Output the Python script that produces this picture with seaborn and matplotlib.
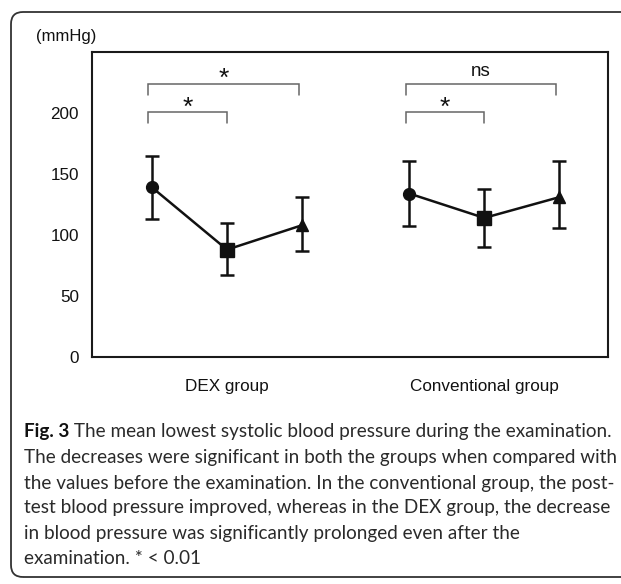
import matplotlib
matplotlib.use("Agg")
import matplotlib.pyplot as plt
import seaborn as sns
import pandas as pd
import numpy as np
from matplotlib.patches import FancyBboxPatch

# ---------------- data ----------------
groups = ["DEX group", "Conventional group"]
timepoints = ["Before", "During", "After"]
dex_mean = [139, 88, 108]
dex_upper = [165, 110, 131]
dex_lower = [113, 67, 87]
conv_mean = [134, 114, 131]
conv_upper = [161, 138, 161]
conv_lower = [107, 90, 106]
y_ticks = [0, 50, 100, 150, 200]
y_unit = "(mmHg)"
sig_labels_dex = ["*", "*"]        # (before vs during, before vs after)
sig_labels_conv = ["*", "ns"]
caption_bold = "Fig. 3"
caption_lines = [
    " The mean lowest systolic blood pressure during the examination.",
    "The decreases were significant in both the groups when compared with",
    "the values before the examination. In the conventional group, the post-",
    "test blood pressure improved, whereas in the DEX group, the decrease",
    "in blood pressure was significantly prolonged even after the",
    "examination. * < 0.01",
]

# ---------------- layout ----------------
W, H = 621, 584
fig = plt.figure(figsize=(W / 100, H / 100), dpi=100)
sns.set_style("white")
plt.rcParams["font.family"] = ["Liberation Sans", "DejaVu Sans"]

ax = fig.add_axes([92 / W, 1 - 357 / H, (608 - 92) / W, (357 - 52) / H])

group_gap = 3.43
rows = []
for gi, (g, m, lo, up) in enumerate(zip(groups, [dex_mean, conv_mean],
                                         [dex_lower, conv_lower],
                                         [dex_upper, conv_upper])):
    for ti, t in enumerate(timepoints):
        rows.append(dict(group=g, time=t, x=1 + ti + gi * group_gap,
                         mean=m[ti], lower=lo[ti], upper=up[ti]))
df = pd.DataFrame(rows)

# lines
sns.lineplot(data=df, x="x", y="mean", units="group", estimator=None,
             color="#111111", lw=1.8, ax=ax, legend=False, sort=True)
# error bars
ax.errorbar(df["x"], df["mean"],
            yerr=[df["mean"] - df["lower"], df["upper"] - df["mean"]],
            fmt="none", ecolor="#111111", elinewidth=1.8, capsize=4.8,
            capthick=1.8, zorder=3)
# markers
marker_map = {"Before": "o", "During": "s", "After": "^"}
size_map = {"Before": 8.5, "During": 10, "After": 8.5}
for t in timepoints:
    sub = df[df["time"] == t]
    ax.plot(sub["x"], sub["mean"], linestyle="none", marker=marker_map[t],
            ms=size_map[t], color="#111111", zorder=4)

ax.set_xlim(0.2, 7.08)
ax.set_ylim(0, 250)
ax.set_yticks(y_ticks)
ax.set_yticklabels([str(v) for v in y_ticks], fontsize=12.3)
ax.tick_params(axis="y", direction="in", length=8, width=1.4,
               pad=9.5, colors="#111111")
ax.set_xticks([2, 2 + group_gap])
ax.set_xticklabels(groups, fontsize=12.3)
ax.tick_params(axis="x", length=0, pad=16, colors="#111111")
ax.set_xlabel("")
ax.set_ylabel("")
for s in ax.spines.values():
    s.set_linewidth(1.5)
    s.set_color("#1a1a1a")
    s.set_visible(True)

ax.text(-0.108, 1.05, y_unit, transform=ax.transAxes, fontsize=12,
        ha="left", va="center", color="#111111")


def bracket(x1, x2, y, drop, label, ly, fs):
    ax.plot([x1, x1, x2, x2], [y - drop, y, y, y - drop], color="#666666",
            lw=1.1, solid_joinstyle="miter", zorder=2)
    ax.text((x1 + x2) / 2, ly, label, ha="center", va="center",
            fontsize=fs, color="#111111")


for gi, labels in enumerate([sig_labels_dex, sig_labels_conv]):
    base = 1 + gi * group_gap
    bracket(base - 0.05, base + 1 - 0.0, 200.5, 8.5, labels[0], 204,
            19 if labels[0] == "*" else 13)
    bracket(base - 0.05, base + 2 - 0.04, 223.5, 9, labels[1],
            228 if labels[1] == "*" else 234,
            19 if labels[1] == "*" else 13.5)

# outer rounded frame
box = FancyBboxPatch((0.11, 0.07), 6.5, 5.65,
                     boxstyle="round,pad=0,rounding_size=0.12",
                     transform=fig.dpi_scale_trans, fill=False,
                     edgecolor="#333333", lw=1.3)
fig.patches.append(box)

# caption
cap_font = ["Lato", "DejaVu Sans"]
cap_x = 24 / W
line_y = [431, 457, 483, 508, 534, 559]
fig.canvas.draw()
r = fig.canvas.get_renderer()
probe = fig.text(0, 0, caption_lines[1], fontsize=12, family=cap_font)
pw = probe.get_window_extent(renderer=r).width
probe.remove()
cap_fs = 12 * 589 / pw
bt = fig.text(cap_x, 1 - line_y[0] / H, caption_bold, fontsize=cap_fs,
              fontweight="bold", family=cap_font, va="center", ha="left",
              color="#111111")
bb = bt.get_window_extent(renderer=r)
fig.text(bb.x1 / W, 1 - line_y[0] / H, caption_lines[0], fontsize=cap_fs,
         family=cap_font, va="center", ha="left", color="#2a2a2a")
for ly, txt in zip(line_y[1:], caption_lines[1:]):
    fig.text(cap_x, 1 - ly / H, txt, fontsize=cap_fs, family=cap_font,
             va="center", ha="left", color="#2a2a2a")

fig.savefig("out.png", dpi=100)
